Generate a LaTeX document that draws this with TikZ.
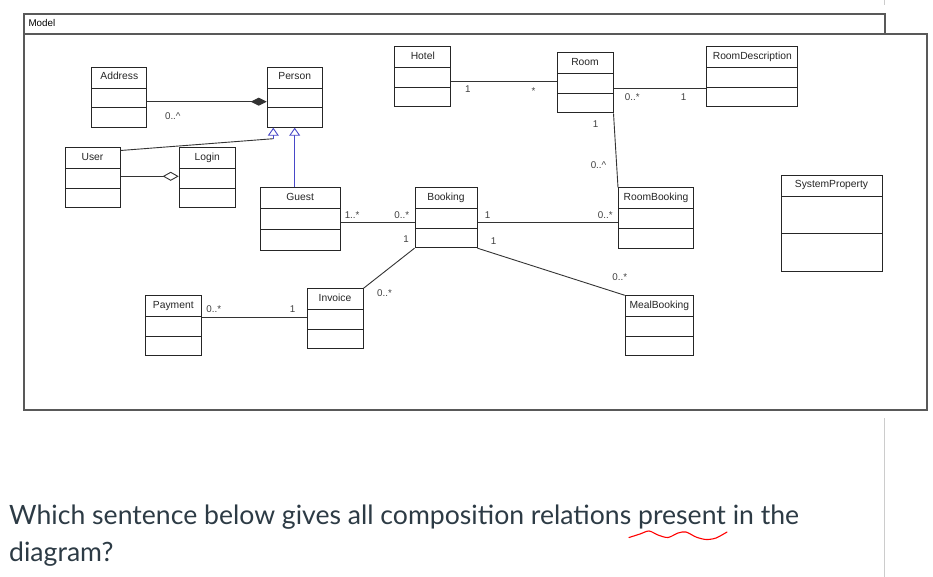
\documentclass[tikz,border=0pt]{standalone}
\usepackage{fontspec}
\setmainfont{Liberation Sans}
\newfontfamily\latofont{Lato}
\usepackage{tikz}
\usetikzlibrary{shapes.multipart, arrows.meta}
\definecolor{umlblue}{RGB}{72,72,200}
\definecolor{qtext}{RGB}{45,59,69}
\tikzstyle{umlclass} = [rectangle split, rectangle split parts=3, draw=black!85, fill=white, line width=1pt, minimum width=56pt, inner xsep=2pt, inner ysep=3pt, rectangle split empty part height=12.5pt, rectangle split empty part depth=0pt, text=black!85, font=\fontsize{10.3}{12}\selectfont]
\tikzstyle{modelframe} = [draw=black!65, line width=1.2pt]
\tikzstyle{assoc} = [draw=black!80, line width=0.9pt]
\tikzstyle{composition} = [assoc, -{Diamond[length=16pt,width=8pt]}]
\tikzstyle{aggregation} = [assoc, -{Diamond[open,length=16pt,width=9pt,fill=white]}]
\tikzstyle{generalization} = [draw=umlblue, line width=0.9pt, -{Triangle[open,length=8pt,width=11pt,fill=white]}]
\tikzstyle{mult} = [font=\fontsize{9.8}{11}\selectfont, text=black!75, inner sep=0pt]
\newcommand{\cname}[1]{\rule[-5pt]{0pt}{14pt}#1}

\begin{document}
\begin{tikzpicture}[x=1pt, y=-1pt, node distance=100pt]
    \useasboundingbox (0,0) rectangle (933,577);
    % package frame
    \draw[modelframe] (24,14) rectangle (885,34);
    \draw[modelframe] (24,34) rectangle (927,410);
    \node (modelname) [anchor=west, font=\fontsize{9.8}{11}\selectfont, inner sep=0pt] at (28.3,23.5) {Model};

    \node (Address) [umlclass, minimum width=55pt] at (119.3,97.2) {\cname{Address}};
    \node (Person) [umlclass, minimum width=55pt, right of=Address, xshift=75.4pt] {\cname{Person}};
    \node (Hotel) [umlclass, right of=Person, xshift=28.1pt, yshift=20.2pt] {\cname{Hotel}};
    \node (Room) [umlclass, right of=Hotel, xshift=62.2pt, yshift=-6pt] {\cname{Room}};
    \node (RoomDescription) [umlclass, minimum width=91pt, right of=Room, xshift=67.3pt, yshift=6pt] {\cname{RoomDescription}};
    \node (User) [umlclass, minimum width=55pt, below of=Address, xshift=-26.8pt, yshift=19.2pt] {\cname{User}};
    \node (Login) [umlclass, right of=User, xshift=14.7pt] {\cname{Login}};
    \node (Guest) [umlclass, minimum width=80pt, rectangle split empty part height=14pt, below of=Person, xshift=5.5pt, yshift=-22.1pt] {\cname{Guest}};
    \node (Booking) [umlclass, minimum width=62pt, right of=Guest, xshift=45.8pt, yshift=1.6pt] {\cname{Booking}};
    \node (RoomBooking) [umlclass, minimum width=75pt, right of=Booking, xshift=110pt, yshift=-0.3pt] {\cname{RoomBooking}};
    \node (MealBooking) [umlclass, minimum width=68pt, below of=RoomBooking, xshift=3.3pt, yshift=-7.8pt] {\cname{MealBooking}};
    \node (SystemProperty) [umlclass, minimum width=101pt, rectangle split empty part height=30.5pt, right of=RoomBooking, xshift=75.5pt, yshift=-5.3pt] {\cname{SystemProperty}};
    \node (Invoice) [umlclass, below of=Guest, xshift=34.8pt, yshift=0.5pt] {\cname{Invoice}};
    \node (Payment) [umlclass, left of=Invoice, xshift=-61.7pt, yshift=-6.7pt] {\cname{Payment}};

    % relations
    \draw[composition] ([yshift=-4.5pt]Address.east) -- ([yshift=-4.5pt]Address.east -| Person.west) node[mult, at start, xshift=25.5pt, yshift=-14.3pt] {0..\textasciicircum};
    \draw[aggregation] ([yshift=1.7pt]User.east) -- ([yshift=1.7pt]User.east -| Login.west);
    \coordinate (ugen) at ([xshift=-21.4pt, yshift=-11pt]Person.south);
    \draw[assoc] ([yshift=-3pt]User.north east) -- (ugen);
    \draw[generalization] (ugen) -- (ugen |- Person.south);
    \draw[generalization] (Guest.north -| Person.south) -- (Person.south);
    \draw[assoc] ([yshift=-4.6pt]Hotel.east) -- ([yshift=-4.6pt]Hotel.east -| Room.west) node[mult, at start, xshift=16.5pt, yshift=-7.7pt] {1} node[mult, at end, xshift=-23pt, yshift=-10pt] {*};
    \draw[assoc] ([yshift=-5.6pt]Room.east) -- ([yshift=-5.6pt]Room.east -| RoomDescription.west) node[mult, at start, xshift=18.7pt, yshift=-8.7pt] {0..*} node[mult, at end, xshift=-22.8pt, yshift=-8.7pt] {1};
    \draw[assoc] (Room.south east) -- (RoomBooking.north west) node[mult, at start, xshift=-18pt, yshift=-10.6pt] {1} node[mult, at end, xshift=-19.5pt, yshift=22.7pt] {0..\textasciicircum};
    \draw[assoc] ([yshift=-3.4pt]Guest.east) -- ([yshift=-3.4pt]Guest.east -| Booking.west) node[mult, at start, xshift=11.4pt, yshift=8pt] {1..*} node[mult, at end, xshift=-12.7pt, yshift=8pt] {0..*};
    \draw[assoc] ([yshift=-5pt]Booking.east) -- ([yshift=-5pt]Booking.east -| RoomBooking.west) node[mult, at start, xshift=10.2pt, yshift=8pt] {1} node[mult, at end, xshift=-12.7pt, yshift=8pt] {0..*};
    \draw[assoc] (Booking.south west) -- (Invoice.north east) node[mult, at start, xshift=-8.3pt, yshift=9pt] {1} node[mult, at end, xshift=21pt, yshift=-4.7pt] {0..*};
    \draw[assoc] (Booking.south east) -- (MealBooking.north west) node[mult, at start, xshift=16pt, yshift=7pt] {1} node[mult, at end, xshift=-5pt, yshift=18.3pt] {0..*};
    \draw[assoc] ([yshift=8.2pt]Payment.east) -- ([yshift=8.2pt]Payment.east -| Invoice.west) node[mult, at start, xshift=12pt, yshift=8.3pt] {0..*} node[mult, at end, xshift=-14pt, yshift=8.3pt] {1};

    % question below the diagram
    \draw[black!20] (884,0) -- (884,5);
    \draw[black!20] (884,418) -- (884,577);
    \node (question) [anchor=base west, inner sep=0pt, text=qtext, font=\latofont\fontsize{26.6}{30}\selectfont] at (9,524.3) {Which sentence below gives all composition relations present in the};
    \node (questionend) [anchor=base west, inner sep=0pt, text=qtext, font=\latofont\fontsize{26.6}{30}\selectfont] at (9,561) {diagram?};
    \draw[red, line width=1.1pt, line cap=round] plot[smooth] coordinates {(629,537.5) (640,534) (649,531) (658,535) (668,537.5) (678,533) (686,532) (696,537) (706,539.5) (716,538) (727,532)};
\end{tikzpicture}
\end{document}
